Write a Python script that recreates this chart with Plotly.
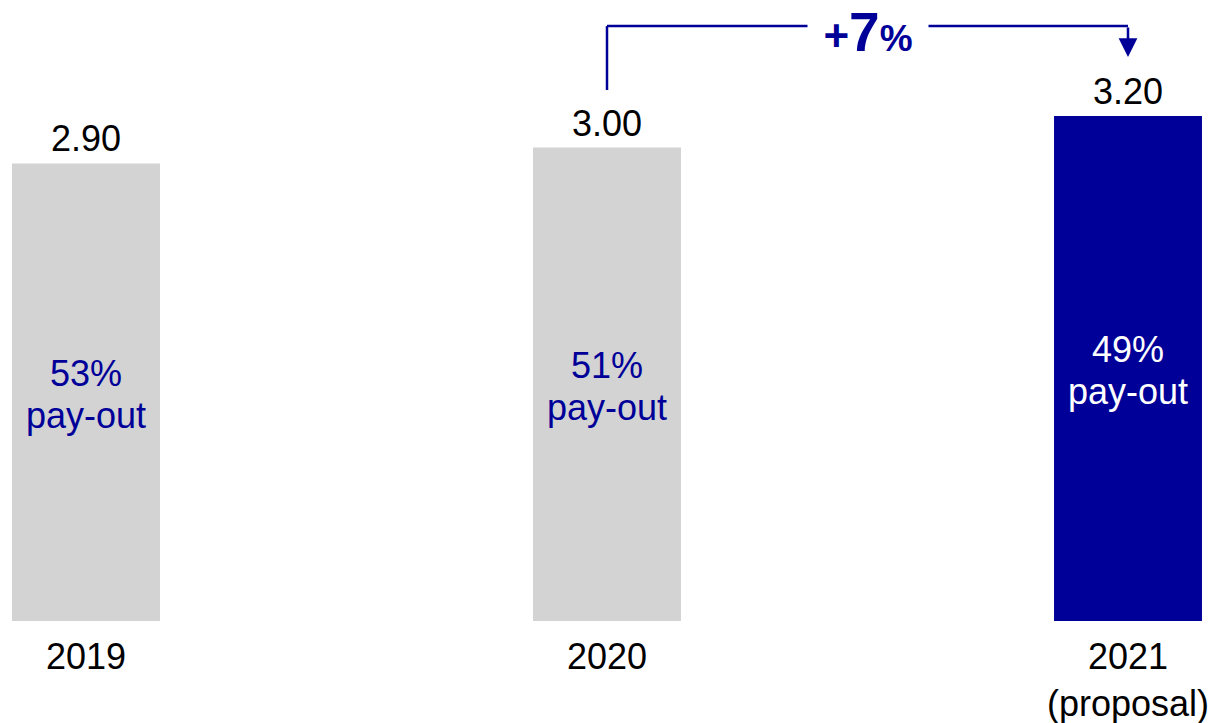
import plotly.graph_objects as go

# Dividend per share by year, with the pay-out ratio
years = ["2019", "2020", "2021"]
year_labels = ["2019", "2020", "2021<br>(proposal)"]
dividend = [2.90, 3.00, 3.20]
payout_pct = [53, 51, 49]

NAVY = "#000099"
GREY = "#D3D3D3"
FONT = "Liberation Sans, Arial, sans-serif"

bar_colors = [GREY, GREY, NAVY]
inner_text_colors = [NAVY, NAVY, "white"]
xs = list(range(len(years)))

fig = go.Figure()
fig.add_trace(go.Bar(
    x=xs, y=dividend, width=0.284,
    marker=dict(color=bar_colors, line=dict(width=0)),
    hoverinfo="skip",
))

annotations = []
for x, v, p, tc in zip(xs, dividend, payout_pct, inner_text_colors):
    # value above the bar
    annotations.append(dict(
        x=x, y=v, xref="x", yref="y", text=f"{v:.2f}", showarrow=False,
        yanchor="bottom", yshift=2, font=dict(family=FONT, size=36, color="black"),
    ))
    # pay-out ratio in the middle of the bar, two tight lines
    annotations.append(dict(
        x=x, y=v / 2, xref="x", yref="y", text=f"{p}%", showarrow=False,
        yanchor="middle", yshift=19, font=dict(family=FONT, size=36, color=tc),
    ))
    annotations.append(dict(
        x=x, y=v / 2, xref="x", yref="y", text="pay-out", showarrow=False,
        yanchor="middle", yshift=-23, font=dict(family=FONT, size=36, color=tc),
    ))

# growth bracket from 2020 to 2021
y_top = 3.77
y_start = 3.365
y_tip = 3.574
shapes = [
    dict(type="line", xref="x", yref="y", x0=1, x1=1, y0=y_start, y1=y_top,
         line=dict(color=NAVY, width=2.5)),
    dict(type="line", xref="x", yref="y", x0=1, x1=2, y0=y_top, y1=y_top,
         line=dict(color=NAVY, width=2.5)),
]
annotations.append(dict(
    x=2, y=y_tip, ax=2, ay=y_top, xref="x", yref="y", axref="x", ayref="y",
    text="", showarrow=True, arrowhead=2, arrowsize=1.5, arrowwidth=2.5,
    arrowcolor=NAVY, standoff=0,
))
annotations.append(dict(
    x=1.5, y=1, xref="x", yref="paper", showarrow=False,
    text=("<b><span style='font-size:44px'>+</span>"
          "<span style='font-size:55px'>7</span>"
          "<span style='font-size:37px'>%</span></b>"),
    font=dict(family=FONT, size=36, color=NAVY),
    bgcolor="white", borderpad=0, xanchor="center", yanchor="top",
    width=120,
))

fig.update_layout(
    width=1219, height=723,
    margin=dict(l=0, r=0, t=0, b=102),
    plot_bgcolor="white", paper_bgcolor="white",
    showlegend=False,
    xaxis=dict(
        range=[-86 / 521, (1219 - 86) / 521],
        tickmode="array", tickvals=xs, ticktext=year_labels,
        tickfont=dict(family=FONT, size=36, color="black"),
        showgrid=False, zeroline=False, showline=False, ticks="",
        ticklabelstandoff=11,
    ),
    yaxis=dict(range=[0, 621 / 157.8], visible=False, showgrid=False, zeroline=False),
    shapes=shapes,
    annotations=annotations,
)

fig.write_html("out.html")
